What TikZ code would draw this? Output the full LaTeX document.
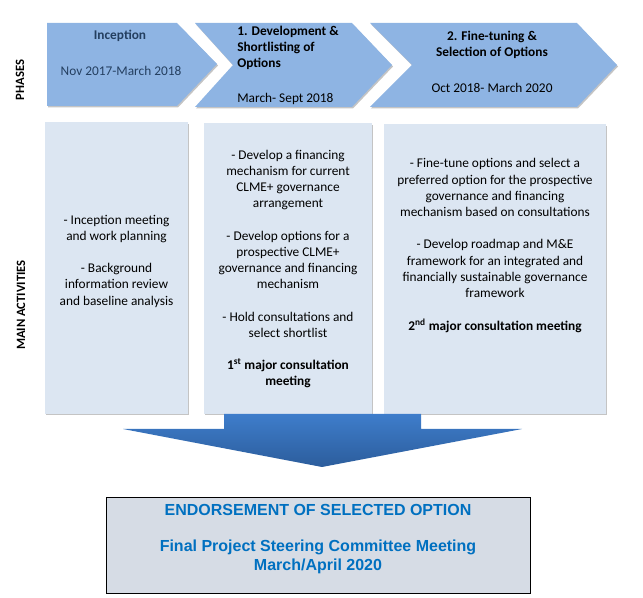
\documentclass[tikz,border=0pt]{standalone}
\usepackage{fontspec}
\setmainfont{Carlito}
\newfontfamily\arialf{Liberation Sans}
\definecolor{chev}{HTML}{8EB4E3}
\definecolor{actbox}{HTML}{DCE6F2}
\definecolor{endbox}{HTML}{D6DCE5}
\definecolor{arrtop}{HTML}{3E7DCB}
\definecolor{arrbot}{HTML}{2C5D9C}
\definecolor{endtext}{HTML}{0070C0}
\definecolor{inctext}{HTML}{243F60}
\definecolor{shadowc}{HTML}{C4C4C4}
\begin{document}
\begin{tikzpicture}[x=0.75pt,y=-0.75pt,
  every node/.style={inner sep=0pt},
  txt/.style={font=\fontsize{10}{12.2}\selectfont, align=center},
  sidelabel/.style={font=\fontsize{9.5}{11}\selectfont\bfseries, rotate=90},
  chevshape/.style={fill=chev},
  shad/.style={fill=shadowc},
  actshape/.style={fill=actbox},
  endtxt/.style={font=\arialf\fontsize{12}{14.4}\selectfont\bfseries, text=endtext, align=center}]
\useasboundingbox (0,0) rectangle (643,598);

% side labels
\node[sidelabel] (phases) at (20,80) {PHASES};
\node[sidelabel] (mainact) at (21,305) {MAIN ACTIVITIES};

% chevron shadows
\fill[shad] (48,24.5) -- (178,24.5) -- (218,65.5) -- (178,107.5) -- (48,107.5) -- cycle;
\fill[shad] (196,24.5) -- (353,24.5) -- (393,66.5) -- (353,108.5) -- (196,108.5) -- (234,66.5) -- cycle;
\fill[shad] (371,24.5) -- (578,24.5) -- (618,66.5) -- (578,108.5) -- (371,108.5) -- (413,66.5) -- cycle;
% chevrons
\fill[chevshape] (47,23) -- (177,23) -- (217,64) -- (177,106) -- (47,106) -- cycle;
\fill[chevshape] (195,23) -- (352,23) -- (392,65) -- (352,107) -- (195,107) -- (233,65) -- cycle;
\fill[chevshape] (370,23) -- (577,23) -- (617,65) -- (577,107) -- (370,107) -- (412,65) -- cycle;

% chevron texts
\node[txt, text=inctext, font=\fontsize{10}{12.2}\selectfont\bfseries] (inc) at (120,36) {Inception};
\node[txt, text=inctext] (incdate) at (121,71) {Nov 2017-March 2018};
\node[txt, align=left, anchor=west, font=\fontsize{10}{12}\selectfont\bfseries] (dev) at (237,48) {1. Development \&\\Shortlisting of\\Options};
\node[txt, anchor=west] (devdate) at (237,99) {March- Sept 2018};
\node[txt, font=\fontsize{10}{12}\selectfont\bfseries] (fine) at (492,45) {2. Fine-tuning \&\\Selection of Options};
\node[txt] (finedate) at (492,88) {Oct 2018- March 2020};

% activity boxes with shadows
\fill[shad] (46,124) rectangle (189,415.5);
\fill[shad] (205,125) rectangle (373,415.5);
\fill[shad] (385,126) rectangle (607,415.5);
\fill[actshape] (45,122) rectangle (188,414);
\fill[actshape] (204,123) rectangle (372,414);
\fill[actshape] (384,124) rectangle (606,414);

% activity texts
\node[txt] (act1) at (116.5,261) {- Inception meeting\\and work planning\\[12pt]- Background\\information review\\and baseline analysis};
\node[txt] (act2) at (288,269) {- Develop a financing\\mechanism for current\\CLME+ governance\\arrangement\\[12pt]- Develop options for a\\prospective CLME+\\governance and financing\\mechanism\\[12pt]- Hold consultations and\\select shortlist\\[12pt]\textbf{1\textsuperscript{st} major consultation}\\\textbf{meeting}};
\node[txt] (act3) at (495,245.5) {- Fine-tune options and select a\\preferred option for the prospective\\governance and financing\\mechanism based on consultations\\[12pt]- Develop roadmap and M\&E\\framework for an integrated and\\financially sustainable governance\\framework\\[12pt]\textbf{2\textsuperscript{nd} major consultation meeting}};

% big down arrow
\shade[top color=arrtop, bottom color=arrbot] (224,414) -- (421,414) -- (421,429) -- (522,429) -- (322,467) -- (123,429) -- (224,429) -- cycle;

% endorsement box
\node[draw=black, line width=0.9pt, fill=endbox, minimum width=424*0.75pt, minimum height=96*0.75pt, anchor=north west] (endbox) at (106,497) {};
\node[endtxt] (endt1) at (318,510) {ENDORSEMENT OF SELECTED OPTION};
\node[endtxt] (endt2) at (318,557) {Final Project Steering Committee Meeting\\March/April 2020};
\end{tikzpicture}
\end{document}
